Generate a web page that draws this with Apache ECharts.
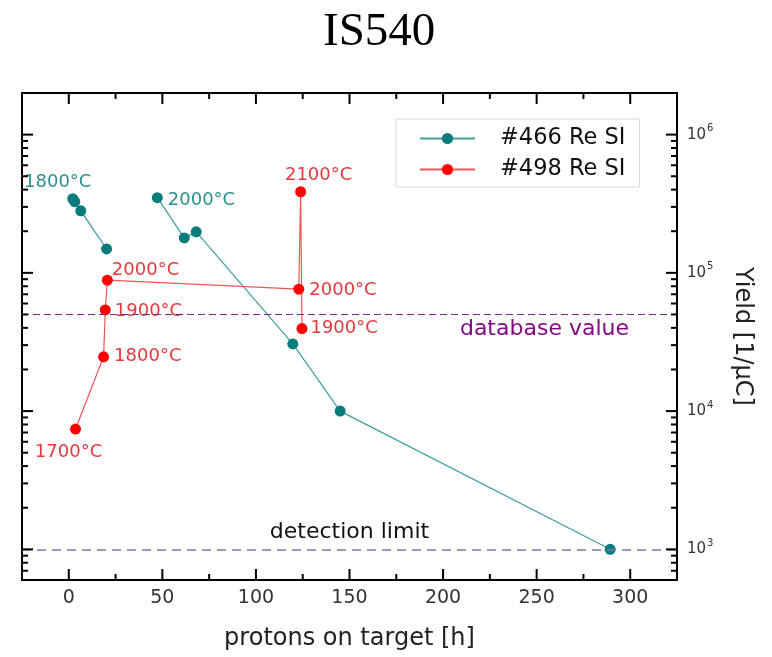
<!DOCTYPE html>
<html>
<head>
<meta charset="utf-8">
<title>IS540</title>
<script src="https://cdn.jsdelivr.net/npm/echarts@6/dist/echarts.min.js"></script>
<style>
  html, body { margin: 0; padding: 0; background: #fff; }
  #chart { width: 772px; height: 657px; }
</style>
</head>
<body>
<div id="chart"></div>
<script>
// ---- data ----
// #466 Re SI, first heating run
const hours466a = [2.1, 3.2, 6.4, 20.2];
const yield466a = [3.44e5, 3.27e5, 2.81e5, 1.49e5];
const temps466a = ['1800°C', '', '', ''];
// #466 Re SI, second heating run
const hours466b = [47.3, 61.7, 68.1, 119.7, 145.0, 289.3];
const yield466b = [3.5e5, 1.79e5, 1.98e5, 3.06e4, 1.0e4, 1.0e3];
const temps466b = ['2000°C', '', '', '', '', ''];
// #498 Re SI
const hours498 = [3.6, 18.6, 19.5, 20.6, 122.9, 123.9, 124.6];
const yield498 = [7.41e3, 2.47e4, 5.39e4, 8.85e4, 7.62e4, 3.86e5, 3.95e4];
const temps498 = ['1700°C', '1800°C', '1900°C', '2000°C', '2000°C', '2100°C', '1900°C'];

// reference levels
const databaseValue = 5e4;
const detectionLimit = 1e3;

// axes
const xTicksMajor = [0, 50, 100, 150, 200, 250, 300];
const xTicksMinor = [25, 75, 125, 175, 225, 275];
const yDecades = [1e3, 1e4, 1e5, 1e6];
const yMinorSteps = [2, 3, 4, 5, 6, 7, 8, 9];

const X_MIN = -25, X_MAX = 325;
const Y_MIN = 600, Y_MAX = 2e6;

// ---- styling ----
const TEAL_LINE = '#3f9d9d', TEAL_DOT = '#0b7c7c', TEAL_TEXT = '#2f8e8e';
const RED_LINE = '#f05656', RED_DOT = '#ff0000', RED_TEXT = '#e33a3e';
const FONT = 'DejaVu Sans';

const place466a = [{ position: 'top', offset: [-15, 3] }];
const place466b = [{ position: 'right', offset: [0, 3] }];
const place498 = [
  { position: 'bottom', offset: [-7, 4] },
  { position: 'right', offset: [0, 0] },
  { position: 'right', offset: [-1, 1] },
  { position: 'right', offset: [-6, -10] },
  { position: 'right', offset: [0, 1] },
  { position: 'top', offset: [18, 3] },
  { position: 'right', offset: [-2, 0] }
];

function buildPoints(xs, ys, temps, places, color) {
  return xs.map((x, i) => {
    const item = { value: [x, ys[i]] };
    if (temps[i]) {
      const p = places[Math.min(i, places.length - 1)] || {};
      item.label = {
        show: true, formatter: temps[i], color: color,
        fontFamily: FONT, fontSize: 18, distance: 5,
        position: p.position, offset: p.offset
      };
    }
    return item;
  });
}

// tick marks drawn inward on all four sides of the frame
const tickData = [];
xTicksMajor.forEach(v => tickData.push([v, Y_MIN, 1, 11]));
xTicksMinor.forEach(v => tickData.push([v, Y_MIN, 1, 6]));
yDecades.forEach(d => tickData.push([X_MIN, d, 0, 11]));
[1e2, 1e3, 1e4, 1e5, 1e6].forEach(d => {
  yMinorSteps.forEach(s => {
    const v = s * d;
    if (v > Y_MIN * 1.02 && v < Y_MAX * 0.98) tickData.push([X_MIN, v, 0, 6]);
  });
});

function renderTick(params, api) {
  const kind = api.value(2);
  const len = api.value(3);
  const style = { stroke: '#000', lineWidth: 2 };
  if (kind === 0) {
    const v = api.value(1);
    const l = api.coord([X_MIN, v]);
    const r = api.coord([X_MAX, v]);
    return {
      type: 'group', children: [
        { type: 'line', shape: { x1: l[0], y1: l[1], x2: l[0] + len, y2: l[1] }, style },
        { type: 'line', shape: { x1: r[0], y1: r[1], x2: r[0] - len, y2: r[1] }, style }
      ]
    };
  }
  const v = api.value(0);
  const b = api.coord([v, Y_MIN]);
  const t = api.coord([v, Y_MAX]);
  return {
    type: 'group', children: [
      { type: 'line', shape: { x1: b[0], y1: b[1], x2: b[0], y2: b[1] - len }, style },
      { type: 'line', shape: { x1: t[0], y1: t[1], x2: t[0], y2: t[1] + len }, style }
    ]
  };
}

function isDecade(v) {
  const e = Math.log10(v);
  return Math.abs(e - Math.round(e)) < 1e-6;
}

const chart = echarts.init(document.getElementById('chart'), null, { renderer: 'canvas' });

const tealCommon = {
  type: 'line',
  name: '#466 Re SI',
  symbol: 'circle',
  symbolSize: 11,
  lineStyle: { color: TEAL_LINE, width: 1.2 },
  itemStyle: { color: TEAL_DOT },
  color: TEAL_DOT,
  z: 4
};

chart.setOption({
  animation: false,
  backgroundColor: '#fff',
  title: {
    text: 'IS540',
    left: 318,
    top: 4,
    textStyle: { fontFamily: 'Liberation Serif', fontSize: 47, fontWeight: 'normal', color: '#000' }
  },
  legend: {
    data: ['#466 Re SI', '#498 Re SI'],
    orient: 'vertical',
    left: 396,
    top: 119,
    padding: [8, 14, 6, 23],
    itemWidth: 55,
    itemHeight: 14,
    itemGap: 8,
    borderColor: '#d8d8d8',
    borderWidth: 1,
    backgroundColor: '#fff',
    textStyle: { fontFamily: FONT, fontSize: 22.5, color: '#111', lineHeight: 22, padding: [0, 0, 0, 20] }
  },
  grid: {
    left: 22, right: 95, top: 93, bottom: 77,
    show: true, borderColor: '#000', borderWidth: 2, backgroundColor: 'transparent'
  },
  xAxis: {
    type: 'value',
    min: X_MIN, max: X_MAX, interval: 25,
    name: 'protons on target [h]',
    nameLocation: 'middle',
    nameGap: 47,
    nameTextStyle: { fontFamily: FONT, fontSize: 24, color: '#222' },
    axisLine: { show: false },
    axisTick: { show: false },
    splitLine: { show: false },
    axisLabel: {
      margin: 9,
      fontFamily: FONT, fontSize: 19, color: '#333',
      formatter: v => (v % 50 === 0 ? String(v) : '')
    }
  },
  yAxis: {
    type: 'log',
    logBase: 10,
    position: 'right',
    min: Y_MIN, max: Y_MAX,
    name: 'Yield [1/μC]',
    nameLocation: 'middle',
    nameRotate: -90,
    nameGap: 53,
    nameTextStyle: { fontFamily: FONT, fontSize: 24, color: '#222' },
    axisLine: { show: false },
    axisTick: { show: false },
    splitLine: { show: false },
    axisLabel: {
      margin: 10,
      showMinLabel: false,
      showMaxLabel: false,
      formatter: v => (isDecade(v) ? '{b|10}{s|' + Math.round(Math.log10(v)) + '}' : ''),
      rich: {
        b: { fontFamily: FONT, fontSize: 15, color: '#333' },
        s: { fontFamily: FONT, fontSize: 10, color: '#333', padding: [0, 0, 12, 1] }
      }
    }
  },
  series: [
    Object.assign({}, tealCommon, { data: buildPoints(hours466a, yield466a, temps466a, place466a, TEAL_TEXT) }),
    Object.assign({}, tealCommon, { data: buildPoints(hours466b, yield466b, temps466b, place466b, TEAL_TEXT) }),
    {
      type: 'line',
      name: '#498 Re SI',
      symbol: 'circle',
      symbolSize: 11,
      lineStyle: { color: RED_LINE, width: 1.2 },
      itemStyle: { color: RED_DOT },
      color: RED_DOT,
      z: 4,
      data: buildPoints(hours498, yield498, temps498, place498, RED_TEXT)
    },
    {
      type: 'line',
      name: 'levels',
      data: [],
      silent: true,
      markLine: {
        silent: true,
        symbol: ['none', 'none'],
        data: [
          {
            yAxis: databaseValue,
            lineStyle: { color: '#7d2a8c', width: 1.2, type: [7, 4] },
            label: {
              formatter: 'database value', position: 'insideEndBottom', distance: [48, 4],
              color: '#840a84', fontFamily: FONT, fontSize: 22
            }
          },
          {
            yAxis: detectionLimit,
            lineStyle: { color: '#7878aa', width: 1.6, type: [9, 6] },
            label: {
              formatter: 'detection limit', position: 'insideMiddleTop', distance: 6,
              color: '#111', fontFamily: FONT, fontSize: 22
            }
          }
        ]
      }
    },
    {
      type: 'custom',
      name: 'ticks',
      silent: true,
      clip: false,
      z: 6,
      renderItem: renderTick,
      encode: { x: 0, y: 1 },
      data: tickData
    }
  ]
});
</script>
</body>
</html>
